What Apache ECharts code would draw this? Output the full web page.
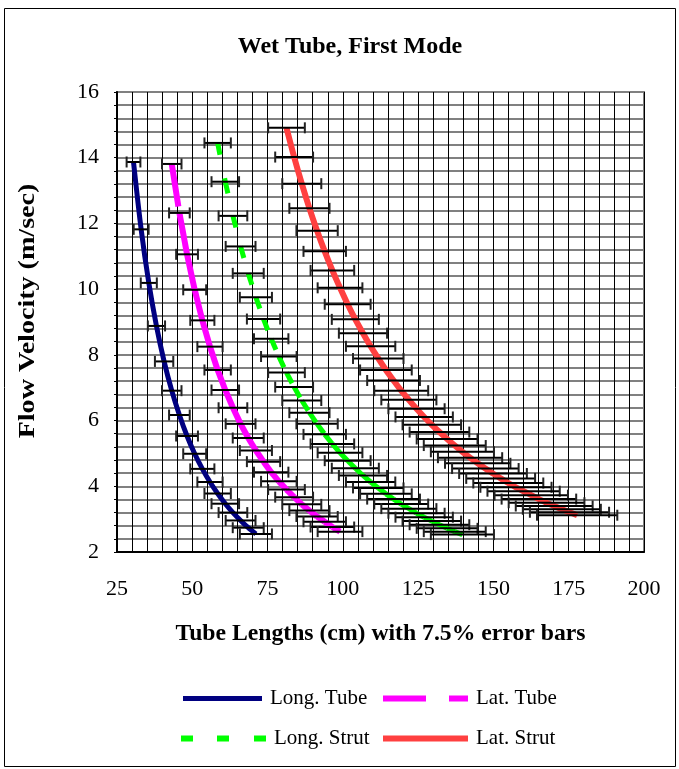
<!DOCTYPE html>
<html>
<head>
<meta charset="utf-8">
<title>Wet Tube, First Mode</title>
<script src="https://cdn.jsdelivr.net/npm/echarts@6/dist/echarts.min.js"></script>
<style>
  html, body { margin: 0; padding: 0; background: #fff; }
  #chart { width: 679px; height: 769px; }
</style>
</head>
<body>
<div id="chart"></div>
<script>
// Tube lengths (cm, one-inch steps) and the flow velocity (m/sec) at first-mode lock-in
const longTubeLen = [30.48, 33.02, 35.56, 38.10, 40.64, 43.18, 45.72, 48.26, 50.80, 53.34, 55.88, 58.42, 60.96, 63.50, 66.04, 68.58, 71.12];
const longTubeVel = [13.87, 11.82, 10.19, 8.88, 7.80, 6.91, 6.17, 5.53, 4.99, 4.53, 4.13, 3.78, 3.47, 3.20, 2.96, 2.74, 2.55];

const latTubeLen = [43.18, 45.72, 48.26, 50.80, 53.34, 55.88, 58.42, 60.96, 63.50, 66.04, 68.58, 71.12, 73.66, 76.20, 78.74, 81.28, 83.82, 86.36, 88.90, 91.44, 93.98, 96.52, 99.06];
const latTubeVel = [13.81, 12.32, 11.06, 9.98, 9.05, 8.25, 7.54, 6.93, 6.39, 5.90, 5.47, 5.09, 4.75, 4.43, 4.15, 3.90, 3.67, 3.45, 3.26, 3.08, 2.92, 2.76, 2.62];

const longStrutLen = [58.42, 60.96, 63.50, 66.04, 68.58, 71.12, 73.66, 76.20, 78.74, 81.28, 83.82, 86.36, 88.90, 91.44, 93.98, 96.52, 99.06, 101.60, 104.14, 106.68, 109.22, 111.76, 114.30, 116.84, 119.38, 121.92, 124.46, 127.00, 129.54, 132.08, 134.62, 137.16, 139.70];
const longStrutVel = [14.45, 13.27, 12.23, 11.30, 10.48, 9.75, 9.09, 8.49, 7.95, 7.46, 7.02, 6.61, 6.24, 5.90, 5.58, 5.29, 5.02, 4.78, 4.55, 4.33, 4.13, 3.95, 3.77, 3.61, 3.46, 3.32, 3.18, 3.06, 2.94, 2.83, 2.72, 2.62, 2.53];

const latStrutLen = [81.28, 83.82, 86.36, 88.90, 91.44, 93.98, 96.52, 99.06, 101.60, 104.14, 106.68, 109.22, 111.76, 114.30, 116.84, 119.38, 121.92, 124.46, 127.00, 129.54, 132.08, 134.62, 137.16, 139.70, 142.24, 144.78, 147.32, 149.86, 152.40, 154.94, 157.48, 160.02, 162.56, 165.10, 167.64, 170.18, 172.72, 175.26, 177.80];
const latStrutVel = [14.91, 14.02, 13.21, 12.46, 11.78, 11.15, 10.57, 10.04, 9.54, 9.08, 8.66, 8.26, 7.89, 7.54, 7.22, 6.91, 6.63, 6.36, 6.11, 5.87, 5.65, 5.44, 5.24, 5.05, 4.87, 4.70, 4.54, 4.39, 4.24, 4.10, 3.97, 3.85, 3.73, 3.61, 3.50, 3.40, 3.30, 3.21, 3.12];

const errorFraction = 0.075; // ±7.5 % on tube length

const FONT = 'Liberation Serif';

const seriesDefs = [
  { name: 'Long. Tube',  len: longTubeLen,  vel: longTubeVel,  color: '#000080', width: 5, dash: null },
  { name: 'Lat. Tube',   len: latTubeLen,   vel: latTubeVel,   color: '#FF00FF', width: 6, dash: [43, 23] },
  { name: 'Long. Strut', len: longStrutLen, vel: longStrutVel, color: '#00FF00', width: 5, dash: [12, 24] },
  { name: 'Lat. Strut',  len: latStrutLen,  vel: latStrutVel,  color: '#FF4040', width: 6, dash: null }
];

function pairs(len, vel) {
  return len.map((x, i) => [x, vel[i]]);
}

// Dashed curves: each segment between neighbouring points restarts its dash pattern
function dashedSegments(def) {
  return function (params, api) {
    const i = params.dataIndex;
    if (i >= def.len.length - 1) return null;
    const a = api.coord([def.len[i], def.vel[i]]);
    const b = api.coord([def.len[i + 1], def.vel[i + 1]]);
    return {
      type: 'line',
      shape: { x1: a[0], y1: a[1], x2: b[0], y2: b[1] },
      style: { stroke: def.color, lineWidth: def.width, lineDash: def.dash, lineCap: 'butt' }
    };
  };
}

// Horizontal error bar with end caps
function errorBar(params, api) {
  const x = api.value(0);
  const y = api.value(1);
  const l = api.coord([x * (1 - errorFraction), y]);
  const r = api.coord([x * (1 + errorFraction), y]);
  const cap = 5.5;
  return {
    type: 'group',
    children: [
      { type: 'line', shape: { x1: l[0], y1: l[1], x2: r[0], y2: r[1] }, style: { stroke: '#000', lineWidth: 2 } },
      { type: 'line', shape: { x1: l[0], y1: l[1] - cap, x2: l[0], y2: l[1] + cap }, style: { stroke: '#222', lineWidth: 2 } },
      { type: 'line', shape: { x1: r[0], y1: r[1] - cap, x2: r[0], y2: r[1] + cap }, style: { stroke: '#222', lineWidth: 2 } }
    ]
  };
}

const series = [];
seriesDefs.forEach(def => {
  if (def.dash) {
    series.push({
      name: def.name,
      type: 'custom',
      renderItem: dashedSegments(def),
      data: pairs(def.len, def.vel),
      itemStyle: { color: def.color },
      z: 2
    });
  } else {
    series.push({
      name: def.name,
      type: 'line',
      data: pairs(def.len, def.vel),
      smooth: 0.3,
      showSymbol: false,
      symbol: 'none',
      color: def.color,
      lineStyle: { color: def.color, width: def.width },
      z: 2
    });
  }
});
seriesDefs.forEach(def => {
  series.push({
    name: def.name + ' error',
    type: 'custom',
    renderItem: errorBar,
    data: pairs(def.len, def.vel),
    z: 3,
    silent: true
  });
});

// Legend icons drawn as filled strokes (solid or dashed)
const legendItems = [
  { name: 'Long. Tube',  left: 183, top: 688, w: 79, icon: 'path://M0,0H79V5H0Z', color: '#000080' },
  { name: 'Lat. Tube',   left: 383, top: 688, w: 85, icon: 'path://M0,0H43V6H0Z M66,0H85V6H66Z', color: '#FF00FF' },
  { name: 'Long. Strut', left: 181, top: 728, w: 85, icon: 'path://M0,0H12V6H0Z M36,0H48V6H36Z M73,0H85V6H73Z', color: '#00FF00' },
  { name: 'Lat. Strut',  left: 383, top: 728, w: 85, icon: 'path://M0,0H85V6H0Z', color: '#FF4040' }
];

const legends = legendItems.map(it => ({
  left: it.left,
  top: it.top,
  itemWidth: it.w,
  itemHeight: 6,
  padding: 0,
  selectedMode: false,
  data: [{ name: it.name, icon: it.icon, itemStyle: { color: it.color, borderWidth: 0 } }],
  textStyle: { fontFamily: FONT, fontSize: 21, color: '#000', padding: [0, 0, 0, 3] }
}));

const option = {
  backgroundColor: '#fff',
  animation: false,
  title: {
    text: 'Wet Tube, First Mode',
    left: 345,
    top: 30,
    textAlign: 'center',
    textStyle: { fontFamily: FONT, fontSize: 24, fontWeight: 'bold', color: '#000' }
  },
  legend: legends,
  grid: {
    left: 117, top: 92, width: 527, height: 460,
    show: true, borderColor: '#808080', borderWidth: 2
  },
  xAxis: {
    type: 'value',
    min: 25, max: 200, interval: 25,
    name: 'Tube Lengths (cm) with 7.5% error bars',
    nameLocation: 'middle',
    nameGap: 70,
    nameTextStyle: { fontFamily: FONT, fontSize: 23.7, fontWeight: 'bold', color: '#000' },
    axisLine: { show: true, lineStyle: { color: '#000', width: 2 } },
    axisTick: { show: false },
    axisLabel: { fontFamily: FONT, fontSize: 22, color: '#000', margin: 26 },
    splitLine: { show: true, lineStyle: { color: '#000', width: 1 } },
    minorTick: { show: false, splitNumber: 5 },
    minorSplitLine: { show: true, lineStyle: { color: '#000', width: 1 } }
  },
  yAxis: {
    type: 'value',
    min: 2, max: 16, interval: 2,
    axisLine: { show: true, lineStyle: { color: '#000', width: 2 } },
    axisTick: { show: true, length: 3, lineStyle: { color: '#000', width: 1 } },
    minorTick: { show: true, splitNumber: 5, length: 3, lineStyle: { color: '#000', width: 1 } },
    axisLabel: { fontFamily: FONT, fontSize: 22, color: '#000', margin: 18 },
    splitLine: { show: true, lineStyle: { color: '#808080', width: 2 } },
    minorSplitLine: { show: true, lineStyle: { color: '#808080', width: 2 } }
  },
  graphic: [
    {
      // vertical axis title, stretched slightly along its baseline
      type: 'text',
      x: 28,
      y: 311,
      rotation: Math.PI / 2,
      scaleX: 1.17,
      style: {
        text: 'Flow Velocity (m/sec)',
        fontFamily: FONT,
        fontSize: 24,
        fontWeight: 'bold',
        fill: '#000',
        align: 'center',
        verticalAlign: 'middle'
      },
      silent: true
    },
    {
      type: 'rect',
      shape: { x: 4.5, y: 8.5, width: 671, height: 758 },
      style: { fill: null, stroke: '#000', lineWidth: 1 },
      silent: true,
      z: 100
    }
  ],
  series: series
};

const chart = echarts.init(document.getElementById('chart'), null, { renderer: 'canvas' });
chart.setOption(option);
</script>
</body>
</html>
